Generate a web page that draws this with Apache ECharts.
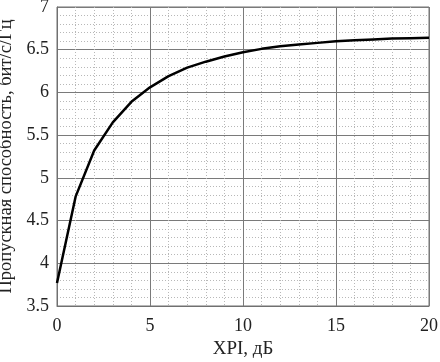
<!DOCTYPE html>
<html><head><meta charset="utf-8">
<script src="https://cdn.jsdelivr.net/npm/echarts@6/dist/echarts.min.js"></script>
<style>html,body{margin:0;padding:0;background:#fff}#c{width:440px;height:362px}</style>
</head><body><div id="c"></div>
<script>
var xpi = [0, 1, 2, 3, 4, 5, 6, 7, 8, 9, 10, 11, 12, 13, 14, 15, 16, 17, 18, 19, 20];
var capacity = [3.77, 4.78, 5.32, 5.65, 5.89, 6.06, 6.19, 6.29, 6.36, 6.42, 6.47, 6.51, 6.54, 6.56, 6.58, 6.60, 6.61, 6.62, 6.63, 6.635, 6.64];
var xTicks = [0, 5, 10, 15, 20];
var yTicks = [3.5, 4, 4.5, 5, 5.5, 6, 6.5, 7];
var xName = 'XPI, дБ';
var yName = 'Пропускная способность, бит/с/Гц';

var font = 'Liberation Serif';
var chart = echarts.init(document.getElementById('c'));
chart.setOption({
  animation: false,
  grid: {left: 57, right: 11, top: 7, bottom: 56, show: true, borderColor: '#707070', borderWidth: 1,
         containLabel: false, outerBoundsMode: 'none'},
  xAxis: {
    type: 'value', min: xTicks[0], max: xTicks[xTicks.length - 1], interval: 5,
    name: xName, nameLocation: 'middle', nameGap: 33,
    nameTextStyle: {fontFamily: font, fontSize: 19, color: '#222'},
    axisLine: {show: true, lineStyle: {color: '#707070'}},
    axisTick: {show: false},
    axisLabel: {fontFamily: font, fontSize: 18, color: '#222', margin: 11},
    splitLine: {show: true, lineStyle: {color: '#7a7a7a', width: 1}},
    minorTick: {show: false, splitNumber: 5},
    minorSplitLine: {show: true, lineStyle: {color: '#b8b8b8', type: [1, 2], width: 1}}
  },
  yAxis: {
    type: 'value', min: yTicks[0], max: yTicks[yTicks.length - 1], interval: 0.5,
    name: yName, nameLocation: 'middle', nameGap: 38,
    nameTextStyle: {fontFamily: font, fontSize: 18.5, color: '#222'},
    axisLine: {show: true, lineStyle: {color: '#707070'}},
    axisTick: {show: false},
    axisLabel: {fontFamily: font, fontSize: 18, color: '#222', margin: 8},
    splitLine: {show: true, lineStyle: {color: '#7a7a7a', width: 1}},
    minorTick: {show: false, splitNumber: 5},
    minorSplitLine: {show: true, lineStyle: {color: '#b8b8b8', type: [1, 2], width: 1}}
  },
  series: [{
    type: 'line', showSymbol: false, smooth: false,
    data: xpi.map(function (x, i) { return [x, capacity[i]]; }),
    lineStyle: {color: '#000', width: 2.5}
  }]
});
</script></body></html>
